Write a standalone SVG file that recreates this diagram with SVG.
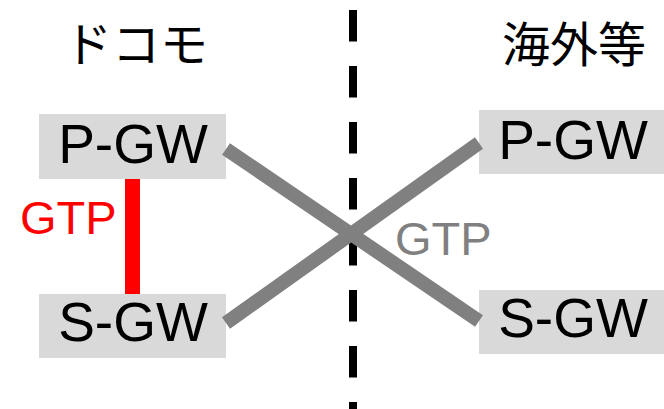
<svg xmlns="http://www.w3.org/2000/svg" width="664" height="409" viewBox="0 0 664 409">
  <style>
    .box { fill: #d9d9d9; }
    .label { font-family: "Liberation Sans", Arial, sans-serif; font-size: 55px; fill: #000; text-anchor: middle; }
    .title { font-family: "Noto Sans CJK JP", "Noto Sans", sans-serif; font-size: 48px; fill: #000; text-anchor: middle; }
    .gtp { font-family: "Liberation Sans", Arial, sans-serif; font-size: 47px; }
    .cross { stroke: #808080; stroke-width: 14; fill: none; }
  </style>
  <rect width="664" height="409" fill="#fff"/>

  <!-- network boundary -->
  <line x1="353" y1="10" x2="353" y2="409" stroke="#000" stroke-width="8" stroke-dasharray="31.5 24.5"/>

  <!-- region titles -->
  <text class="title" x="136" y="62">ドコモ</text>
  <text class="title" x="574" y="62">海外等</text>

  <g id="pgw-docomo">
    <rect class="box" x="39" y="114" width="187" height="65"/>
    <text class="label" x="133" y="163">P-GW</text>
  </g>
  <g id="sgw-docomo">
    <rect class="box" x="39" y="294" width="187" height="64"/>
    <text class="label" x="133" y="341">S-GW</text>
  </g>
  <g id="pgw-overseas">
    <rect class="box" x="479" y="110" width="187" height="64"/>
    <text class="label" x="573" y="159">P-GW</text>
  </g>
  <g id="sgw-overseas">
    <rect class="box" x="479" y="290" width="187" height="64"/>
    <text class="label" x="573" y="337">S-GW</text>
  </g>

  <g id="connectors">
    <line x1="132.5" y1="179" x2="132.5" y2="294" stroke="#ff0000" stroke-width="15"/>
    <line class="cross" x1="226" y1="149" x2="479" y2="321"/>
    <line class="cross" x1="226" y1="323" x2="479" y2="143"/>
    <text class="gtp" x="20" y="234" fill="#ff0000">GTP</text>
    <text class="gtp" x="395" y="255" fill="#808080">GTP</text>
  </g>
</svg>
